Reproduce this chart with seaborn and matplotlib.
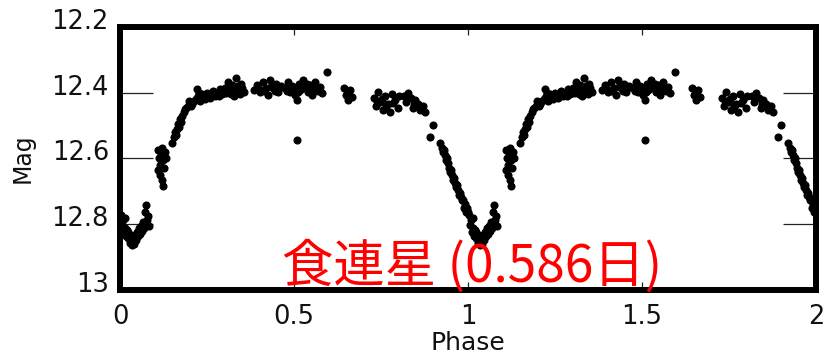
import matplotlib
matplotlib.use('Agg')
import matplotlib.pyplot as plt
import matplotlib.transforms as mtransforms
import pandas as pd
import seaborn as sns

# One cycle of the folded light curve (phase 0-1); the chart shows it twice (0-2)
phase = [
    0.003, 0.006, 0.009, 0.011, 0.014, 0.017, 0.020, 0.023, 0.026, 0.029,
    0.032, 0.034, 0.037, 0.040, 0.043, 0.046, 0.049, 0.052, 0.055, 0.057,
    0.060, 0.063, 0.066, 0.069, 0.072, 0.075, 0.078, 0.080, 0.083, 0.013, 0.024,
    0.109, 0.112, 0.115, 0.109, 0.118, 0.121, 0.124, 0.115, 0.129, 0.132,
    0.126, 0.121, 0.124,
    0.149, 0.155, 0.158, 0.164, 0.167, 0.172, 0.178, 0.184, 0.190, 0.195,
    0.201, 0.207, 0.213, 0.218, 0.221, 0.224, 0.230, 0.236, 0.244, 0.250,
    0.259, 0.267, 0.273, 0.279, 0.287, 0.293, 0.175, 0.187, 0.198, 0.204,
    0.161, 0.170, 0.226, 0.240, 0.262, 0.283,
    0.302, 0.310, 0.316, 0.322, 0.330, 0.333, 0.339, 0.345, 0.351, 0.356, 0.328,
    0.305, 0.320, 0.335, 0.348, 0.313,
    0.385, 0.394, 0.402, 0.411, 0.420, 0.425, 0.431, 0.440, 0.448, 0.454, 0.463,
    0.398, 0.415, 0.436, 0.445, 0.458,
    0.474, 0.483, 0.489, 0.494, 0.503, 0.509, 0.514, 0.517, 0.526, 0.532,
    0.540, 0.546, 0.552, 0.560, 0.566, 0.575, 0.580,
    0.480, 0.498, 0.520, 0.536, 0.556, 0.570, 0.512,
    0.595, 0.509,
    0.644, 0.649, 0.655, 0.661, 0.667,
    0.730, 0.736, 0.741, 0.747, 0.756, 0.761, 0.770, 0.776, 0.782, 0.790,
    0.799, 0.802, 0.738, 0.752, 0.765, 0.785,
    0.816, 0.822, 0.828, 0.836, 0.842, 0.848, 0.856, 0.862, 0.871, 0.876,
    0.825, 0.845, 0.866,
    0.899, 0.891,
    0.920, 0.925, 0.928, 0.934, 0.937, 0.943, 0.945, 0.948, 0.954, 0.957,
    0.963, 0.966, 0.971, 0.977, 0.980, 0.986, 0.991, 0.997, 0.9998,
    0.931, 0.940, 0.951, 0.960, 0.968, 0.974, 0.983, 0.989, 0.994,
]
mag = [
    12.772, 12.802, 12.787, 12.824, 12.811, 12.836, 12.818, 12.842, 12.830, 12.857,
    12.848, 12.863, 12.842, 12.860, 12.833, 12.848, 12.824, 12.836, 12.811, 12.830,
    12.805, 12.821, 12.793, 12.811, 12.763, 12.741, 12.787, 12.775, 12.805, 12.781, 12.824,
    12.574, 12.598, 12.620, 12.635, 12.589, 12.568, 12.605, 12.650, 12.580, 12.598,
    12.629, 12.665, 12.684,
    12.553, 12.535, 12.520, 12.510, 12.495, 12.480, 12.470, 12.460, 12.445, 12.440,
    12.430, 12.435, 12.425, 12.420, 12.389, 12.410, 12.425, 12.405, 12.420, 12.400,
    12.415, 12.395, 12.410, 12.400, 12.390, 12.405, 12.490, 12.450, 12.425, 12.440,
    12.530, 12.505, 12.400, 12.410, 12.405, 12.410,
    12.386, 12.367, 12.392, 12.376, 12.398, 12.355, 12.379, 12.404, 12.386, 12.398, 12.410,
    12.400, 12.405, 12.385, 12.372, 12.380,
    12.392, 12.376, 12.398, 12.367, 12.386, 12.407, 12.361, 12.386, 12.373, 12.398, 12.379,
    12.388, 12.395, 12.372, 12.395, 12.385,
    12.386, 12.367, 12.398, 12.379, 12.407, 12.422, 12.373, 12.392, 12.361, 12.386,
    12.398, 12.376, 12.407, 12.367, 12.392, 12.383, 12.401,
    12.395, 12.390, 12.380, 12.372, 12.385, 12.395, 12.398,
    12.337, 12.544,
    12.386, 12.407, 12.422, 12.392, 12.413,
    12.416, 12.440, 12.398, 12.428, 12.452, 12.410, 12.434, 12.459, 12.404, 12.422,
    12.446, 12.410, 12.425, 12.418, 12.440, 12.430,
    12.410, 12.428, 12.401, 12.416, 12.446, 12.422, 12.434, 12.452, 12.440, 12.459,
    12.415, 12.435, 12.445,
    12.498, 12.535,
    12.553, 12.568, 12.580, 12.589, 12.605, 12.614, 12.629, 12.641, 12.650, 12.665,
    12.675, 12.687, 12.696, 12.705, 12.717, 12.726, 12.738, 12.751, 12.763,
    12.574, 12.598, 12.635, 12.659, 12.681, 12.711, 12.726, 12.751, 12.763,
]
cycles = [0, 1]

x_ticks = [0, 0.5, 1, 1.5, 2]
x_tick_labels = ['0', '0.5', '1', '1.5', '2']
y_ticks = [12.2, 12.4, 12.6, 12.8, 13]
y_tick_labels = ['12.2', '12.4', '12.6', '12.8', '13']
x_label = 'Phase'
y_label = 'Mag'
note_text = '食連星 (0.586日)'

rows = []
for c in cycles:
    for p, m in zip(phase, mag):
        rows.append({'Phase': p + c, 'Mag': m})
df = pd.DataFrame(rows)

sns.set_theme(style='white')
plt.rcParams['font.family'] = ['DejaVu Sans']

fig = plt.figure(figsize=(8.25, 3.59), dpi=100)
fig.patch.set_facecolor('white')
ax = fig.add_axes([0.1455, 0.1922, 0.8436, 0.7326])
sns.scatterplot(data=df, x='Phase', y='Mag', ax=ax, color='black', s=34,
                linewidth=0, marker='o', legend=False, zorder=3)

ax.set_xlim(0, 2)
ax.set_ylim(13, 12.2)
ax.set_xticks(x_ticks)
ax.set_xticklabels(x_tick_labels)
ax.set_yticks(y_ticks)
ax.set_yticklabels(y_tick_labels)

for s in ax.spines.values():
    s.set_visible(True)
    s.set_color('black')
    s.set_linewidth(4.3)
    s.set_zorder(4)

ax.tick_params(axis='y', direction='in', length=24, width=0.9, color='#222222',
               left=True, right=True, labelleft=True, labelright=False,
               labelsize=18.5, labelcolor='#111111', pad=8)
ax.tick_params(axis='x', direction='in', length=6, width=0.9, color='#222222',
               bottom=True, top=True, labelbottom=True, labeltop=False,
               labelsize=18.5, labelcolor='#111111', pad=10)

# y tick labels sit with their baseline just below the tick, as in the reference
shift = mtransforms.ScaledTranslation(0, -2 / 100, fig.dpi_scale_trans)
for lab in ax.get_yticklabels():
    lab.set_verticalalignment('baseline')
    lab.set_transform(lab.get_transform() + shift)

ax.set_xlabel(x_label, fontsize=18, color='#111111', labelpad=1)
ax.set_ylabel(y_label, fontsize=17, color='#111111', labelpad=12)

ax.text(0.5065, 0.03, note_text, transform=ax.transAxes, ha='center',
        va='baseline', color='#ff0000', fontsize=37,
        family=['Noto Sans CJK JP', 'DejaVu Sans'], zorder=10)

fig.savefig('out.png', dpi=100, facecolor='white')
